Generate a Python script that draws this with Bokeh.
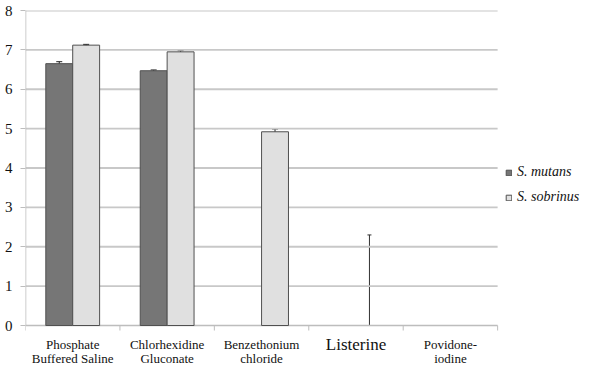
from bokeh.plotting import figure
from bokeh.models import (ColumnDataSource, Range1d, FixedTicker, Whisker, TeeHead,
                          Legend, LegendItem, Label)
from bokeh.embed import file_html
from bokeh.resources import INLINE

categories = ["Phosphate Buffered Saline", "Chlorhexidine Gluconate",
              "Benzethonium chloride", "Listerine", "Povidone-iodine"]
label_line1 = ["Phosphate", "Chlorhexidine", "Benzethonium", "Listerine", "Povidone-"]
label_line2 = ["Buffered Saline", "Gluconate", "chloride", "", "iodine"]
mutans = [6.65, 6.47, 0, 0, 0]
mutans_err = [0.05, 0.02, 0, 0, 0]
sobrinus = [7.12, 6.95, 4.92, 0, 0]
sobrinus_err = [0.02, 0.03, 0.07, 2.3, 0]
y_ticks = [0, 1, 2, 3, 4, 5, 6, 7, 8]

FONT = "Liberation Serif"
DARK = "#767676"
LIGHT = "#e0e0e0"
EDGE = "#505050"
GRID = "#c8c8c8"
AXIS = "#bdbdbd"
BAR_W = 0.285
X_END = 5.92           # frame spans past the categories to hold the legend
Y_START = -1.041       # frame extends below zero to hold the category labels

p = figure(width=584, height=366, output_backend="svg", toolbar_location=None,
           x_range=Range1d(0, X_END), y_range=Range1d(Y_START, 8),
           x_axis_location=None)
p.min_border_left = 25
p.min_border_right = 0
p.min_border_top = 10
p.min_border_bottom = 0
p.outline_line_color = None
p.xgrid.grid_line_color = None
p.ygrid.grid_line_color = None

n = len(categories)
centers = [i + 0.5 for i in range(n)]
bounds = list(range(n + 1))

grid_y = [t for t in y_ticks if t > 0]
p.segment(x0=[0] * len(grid_y), x1=[n] * len(grid_y), y0=grid_y, y1=grid_y,
          line_color=GRID, line_width=1.8)
p.segment(x0=[0], x1=[n], y0=[0], y1=[0], line_color=AXIS, line_width=1.5)
p.segment(x0=[0], x1=[0], y0=[0], y1=[max(y_ticks)], line_color=AXIS, line_width=1.5)
p.segment(x0=bounds, x1=bounds, y0=[0] * len(bounds), y1=[-0.127] * len(bounds),
          line_color=AXIS, line_width=1)

def bars(vals, offset, color):
    xs = [c + offset for c, v in zip(centers, vals) if v > 0]
    tops = [v for v in vals if v > 0]
    return p.vbar(x=xs, top=tops, width=BAR_W, fill_color=color,
                  line_color=EDGE, line_width=1)

r_m = bars(mutans, -BAR_W / 2, DARK)
r_s = bars(sobrinus, BAR_W / 2, LIGHT)

def whiskers(vals, errs, offset):
    full = dict(x=[], lower=[], upper=[])
    half = dict(x=[], lower=[], upper=[])
    for c, v, e in zip(centers, vals, errs):
        if e <= 0:
            continue
        target = full if v - e >= 0 else half
        target["x"].append(c + offset)
        target["lower"].append(max(v - e, 0))
        target["upper"].append(v + e)
    if full["x"]:
        p.add_layout(Whisker(base="x", lower="lower", upper="upper",
                             source=ColumnDataSource(full), line_color="#202020",
                             line_width=1,
                             upper_head=TeeHead(size=6, line_color="#202020", line_width=1),
                             lower_head=TeeHead(size=6, line_color="#202020", line_width=1)))
    if half["x"]:
        p.add_layout(Whisker(base="x", lower="lower", upper="upper",
                             source=ColumnDataSource(half), line_color="#303030",
                             line_width=1,
                             upper_head=TeeHead(size=4, line_color="#303030", line_width=1),
                             lower_head=None))

whiskers(mutans, mutans_err, -BAR_W / 2)
whiskers(sobrinus, sobrinus_err, BAR_W / 2)

for c, l1, l2 in zip(centers, label_line1, label_line2):
    big = (l2 == "")
    p.add_layout(Label(x=c, y=-0.48, text=l1, text_align="center",
                       text_baseline="middle", text_font=FONT,
                       text_font_size="17px" if big else "13px", text_color="#111111"))
    if l2:
        p.add_layout(Label(x=c, y=-0.84, text=l2, text_align="center",
                           text_baseline="middle", text_font=FONT,
                           text_font_size="13px", text_color="#111111"))

ya = p.yaxis[0]
ya.ticker = FixedTicker(ticks=y_ticks)
ya.minor_tick_line_color = None
ya.major_tick_out = 5
ya.major_tick_in = 0
ya.major_tick_line_color = AXIS
ya.axis_line_color = None
ya.major_label_text_font = FONT
ya.major_label_text_font_size = "15px"
ya.major_label_text_color = "#111111"
ya.major_label_standoff = 8

legend = Legend(items=[LegendItem(label="S. mutans", renderers=[r_m]),
                       LegendItem(label="S. sobrinus", renderers=[r_s])],
                location=(480, 159), orientation="vertical")
legend.border_line_color = None
legend.background_fill_alpha = 0
legend.padding = 0
legend.margin = 0
legend.spacing = 5
legend.glyph_width = 7
legend.glyph_height = 7
legend.label_height = 20
legend.label_standoff = 5
legend.label_text_font = FONT
legend.label_text_font_style = "italic"
legend.label_text_font_size = "14px"
legend.label_text_color = "#111111"
p.add_layout(legend, "center")

open("out.html", "w").write(file_html(p, INLINE))
